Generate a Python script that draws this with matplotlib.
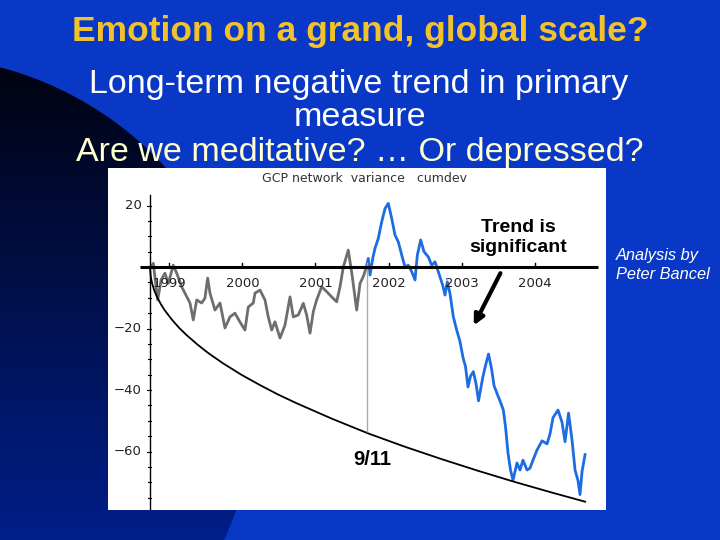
import numpy as np
import matplotlib.pyplot as plt
from matplotlib.patches import Circle, Rectangle

# cumdev before 9/11 (grey) and after (blue): (decimal year, value)
grey_year = [1998.747, 1998.778, 1998.839, 1998.885, 1998.938, 1998.984, 1999.052, 1999.099,
             1999.167, 1999.212, 1999.281, 1999.326, 1999.373, 1999.441, 1999.486, 1999.523,
             1999.555, 1999.623, 1999.692, 1999.760, 1999.829, 1999.897, 1999.966, 2000.034,
             2000.079, 2000.148, 2000.171, 2000.240, 2000.308, 2000.353, 2000.400, 2000.445,
             2000.514, 2000.582, 2000.651, 2000.696, 2000.764, 2000.833, 2000.879, 2000.925,
             2000.970, 2001.016, 2001.085, 2001.153, 2001.222, 2001.290, 2001.336, 2001.381,
             2001.449, 2001.504, 2001.564, 2001.610, 2001.655, 2001.692]
grey_val = [0, 1.2, -10.7, -4.2, -2, -5.3, 0.6, -2,
            -6.4, -8.5, -11.7, -17.2, -10.7, -11.7, -10.1, -3.6,
            -8.5, -14, -11.7, -19.8, -16.2, -15, -17.9, -20.5,
            -13, -11.7, -8.5, -7.5, -10.7, -16.2, -20.5, -17.8,
            -23.1, -18.9, -9.7, -16.2, -15.6, -11.8, -15.6, -21.5,
            -14.5, -10.7, -6.4, -8, -9.7, -11.3, -6.4, 0,
            5.5, -3.1, -14, -5.3, -3.1, -0.4]

blue_year = [2001.692, 2001.723, 2001.747, 2001.784, 2001.815, 2001.860, 2001.907, 2001.952,
             2001.997, 2002.044, 2002.089, 2002.134, 2002.181, 2002.226, 2002.271, 2002.318,
             2002.363, 2002.395, 2002.441, 2002.486, 2002.545, 2002.592, 2002.637, 2002.682,
             2002.742, 2002.774, 2002.805, 2002.842, 2002.888, 2002.934, 2002.979, 2003.021,
             2003.055, 2003.089, 2003.123, 2003.162, 2003.199, 2003.233, 2003.290, 2003.336,
             2003.370, 2003.411, 2003.445, 2003.486, 2003.527, 2003.573, 2003.603, 2003.637,
             2003.671, 2003.705, 2003.760, 2003.801, 2003.842, 2003.897, 2003.938, 2003.979,
             2004.034, 2004.103, 2004.171, 2004.212, 2004.253, 2004.322, 2004.377, 2004.418,
             2004.466, 2004.514, 2004.555, 2004.596, 2004.623, 2004.651, 2004.692]
blue_val = [-0.4, 2.8, -2.6, 2.8, 6.1, 9.3, 14.7, 19,
            20.7, 15.8, 10.4, 8.2, 3.9, 0, 0.6, -1.5,
            -4.2, 3.9, 8.8, 5, 3.3, 0.6, 1.7, -1.5,
            -5.9, -9.1, -4.8, -8.6, -16.2, -20.5, -24.2, -29.5,
            -32.4, -39, -35.5, -34, -38, -43.5, -36, -31.3,
            -28.3, -33, -38.5, -41.1, -43.5, -46.5, -52, -60.5,
            -66, -69.3, -63.7, -66, -62.8, -66, -65.4, -62.8,
            -59.5, -56.5, -57.5, -54.3, -49, -46.5, -50.5, -56.8,
            -47.5, -56.3, -66, -69.5, -74, -66.5, -61]

# lower envelope (years since start, value)
env_t = [0, 0.01, 0.03, 0.06, 0.1, 0.15, 0.2, 0.3, 0.4, 0.5, 0.65, 0.8, 1.0, 1.25, 1.5,
         1.75, 2.0, 2.5, 3.0, 3.5, 4.0, 4.5, 5.0, 5.5, 5.96]
env_val = [0, -3.1, -5.4, -7.7, -9.9, -12.1, -14.0, -17.1, -19.8, -22.1, -25.2, -28.0,
           -31.3, -35.0, -38.3, -41.4, -44.2, -49.4, -54.2, -58.5, -62.5, -66.3, -69.9,
           -73.3, -76.3]
start_year = 1998.733
sept11 = 2001.70
years = [1999, 2000, 2001, 2002, 2003, 2004]
yticks = [20, 0, -20, -40, -60]

blue_bg = '#0a38c6'

fig = plt.figure(figsize=(7.2, 5.4), dpi=100, facecolor=blue_bg)

# slide background, pixel coords
bg = fig.add_axes([0, 0, 1, 1])
bg.set_xlim(0, 720)
bg.set_ylim(540, 0)
bg.axis('off')
grad = np.linspace(0, 1, 256)
cols = np.zeros((256, 1, 3))
cols[:, 0, 1] = 0.01 + 0.11 * grad
cols[:, 0, 2] = 0.06 + 0.48 * grad
im = bg.imshow(cols, extent=(0, 720, 540, 60), aspect='auto', zorder=1)
circ = Circle((-87, 398), 342, transform=bg.transData)
im.set_clip_path(circ)
bg.add_patch(Rectangle((108, 168), 498, 342, facecolor='white', edgecolor='none', zorder=2))

bg.text(360, 32, 'Emotion on a grand, global scale?', color='#f2c22a', fontsize=25.5,
        fontweight='bold', family='Liberation Sans', ha='center', va='center', zorder=3)
bg.text(359, 85, 'Long-term negative trend in primary', color='white', fontsize=24.5,
        family='Liberation Sans', ha='center', va='center', zorder=3)
bg.text(360, 118, 'measure', color='white', fontsize=24.5,
        family='Liberation Sans', ha='center', va='center', zorder=3)
bg.text(360, 152, 'Are we meditative? … Or depressed?', color='#ffffd0', fontsize=24.5,
        family='Liberation Sans', ha='center', va='center', zorder=3)
bg.text(616, 265, 'Analysis by\nPeter Bancel', color='white', fontsize=11.8, style='italic',
        family='Liberation Sans', ha='left', va='center', linespacing=1.35, zorder=3)

# chart axes over the white panel
ax = fig.add_axes([108 / 720, 30 / 540, 498 / 720, 342 / 540])
ax.set_xlim(1998.158, 2004.979)
ax.set_ylim(-79.0, 32.2)
ax.axis('off')
ax.patch.set_visible(False)

ax.plot(grey_year, grey_val, color='#6e6e6e', lw=2.0)
ax.plot(blue_year, blue_val, color='#1c6ce4', lw=2.0)
env_years = [start_year + t for t in env_t]
ax.plot(env_years, env_val, color='black', lw=1.3)
ax.vlines(sept11, -53.5, 1.5, color='#aaaaaa', lw=1)

# axes lines
ax.plot([1998.60, 2004.87], [0, 0], color='black', lw=2.2, solid_capstyle='butt')
ax.plot([start_year, start_year], [-79, 23.5], color='black', lw=1)
for yr in years:
    ax.plot([yr, yr], [0, 1.3], color='black', lw=1)
    ax.text(yr, -5.2, str(yr), ha='center', va='center', fontsize=9.5, color='#222222')
for v in range(-75, 25, 5):
    w = 0.04 if v % 20 == 0 else 0.025
    ax.plot([start_year - w, start_year + 0.02], [v, v], color='black', lw=0.8)
for v in yticks:
    if v == 0:
        continue
    lab = str(v) if v > 0 else '\u2212' + str(-v)
    ax.text(start_year - 0.11, v, lab, ha='right', va='center', fontsize=9.5, color='#222222')

ax.text(2001.67, 28.7, 'GCP network  variance   cumdev', ha='center', va='center',
        fontsize=9, color='#333333')
ax.text(2003.78, 9.6, 'Trend is\nsignificant', ha='center', va='center', fontsize=14,
        fontweight='bold', family='Liberation Sans', linespacing=1.3)
ax.annotate('', xy=(2003.15, -19.8), xytext=(2003.55, -1.2),
            arrowprops=dict(arrowstyle='-|>,head_length=0.6,head_width=0.3', color='black', lw=3))
ax.text(2001.78, -62.6, '9/11', ha='center', va='center', fontsize=14.5,
        fontweight='bold', family='Liberation Sans')

fig.savefig('out.png', dpi=100, facecolor=blue_bg)
